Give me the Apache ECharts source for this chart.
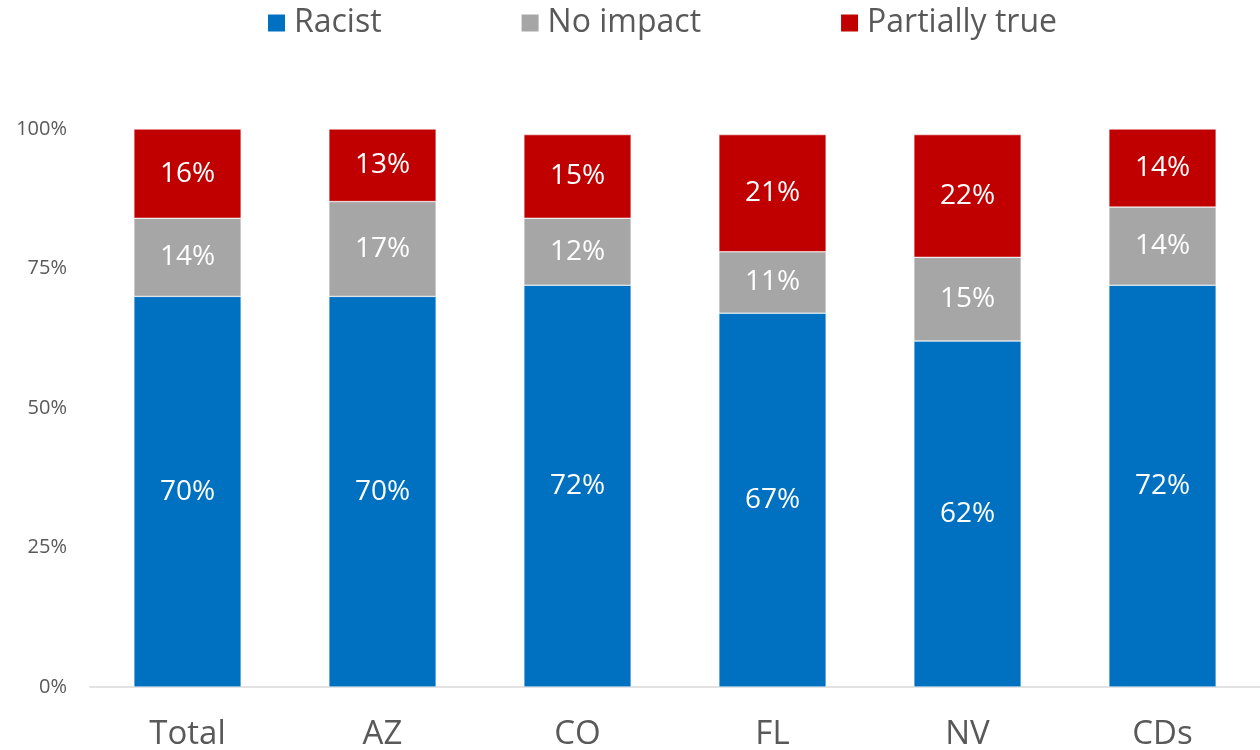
<!DOCTYPE html>
<html>
<head>
<meta charset="utf-8">
<script src="https://cdn.jsdelivr.net/npm/echarts@6/dist/echarts.min.js"></script>
<style>
  html, body { margin: 0; padding: 0; background: #fff; }
  #chart { width: 1260px; height: 750px; }
</style>
</head>
<body>
<div id="chart"></div>
<script>
const categories = ['Total', 'AZ', 'CO', 'FL', 'NV', 'CDs'];
const racist = [70, 70, 72, 67, 62, 72];
const noImpact = [14, 17, 12, 11, 15, 14];
const partiallyTrue = [16, 13, 15, 21, 22, 14];
const yTicks = [0, 25, 50, 75, 100];

const font = "'Open Sans', 'Liberation Sans', sans-serif";

const chart = echarts.init(document.getElementById('chart'));

const seg = (name, data, color) => ({
  name,
  type: 'bar',
  stack: 'all',
  data,
  barWidth: '55%',
  itemStyle: { color, borderColor: '#fff', borderWidth: 0.5 },
  label: {
    show: true,
    position: 'inside',
    formatter: p => p.value + '%',
    color: '#fff',
    fontSize: 28,
    fontFamily: font
  }
});

chart.setOption({
  animation: false,
  backgroundColor: '#fff',
  textStyle: { fontFamily: font },
  legend: {
    top: 2,
    left: 261,
    itemWidth: 19,
    itemHeight: 19,
    itemGap: 138,
    icon: 'rect',
    textStyle: { fontSize: 32, color: '#595959', fontFamily: font, padding: [0, 0, 0, 3] },
    data: ['Racist', 'No impact', 'Partially true']
  },
  grid: { left: 90, right: 0, top: 129, bottom: 63, outerBoundsMode: 'none' },
  xAxis: {
    type: 'category',
    data: categories,
    axisLine: { lineStyle: { color: '#d9d9d9', width: 1.5 } },
    axisTick: { show: false },
    axisLabel: { fontSize: 33, color: '#595959', margin: 31, fontFamily: font }
  },
  yAxis: {
    type: 'value',
    min: yTicks[0],
    max: yTicks[yTicks.length - 1],
    interval: 25,
    splitLine: { show: false },
    axisLine: { show: false },
    axisTick: { show: false },
    axisLabel: { fontSize: 20, color: '#595959', margin: 23, formatter: v => v + '%', fontFamily: font }
  },
  series: [
    seg('Racist', racist, '#0070c0'),
    seg('No impact', noImpact, '#a6a6a6'),
    seg('Partially true', partiallyTrue, '#c00000')
  ]
});
</script>
</body>
</html>
